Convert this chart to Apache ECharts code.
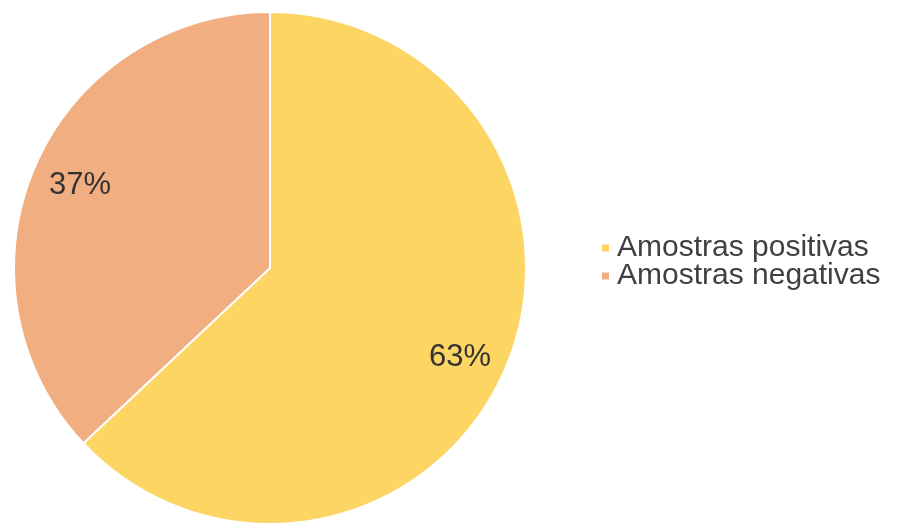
<!DOCTYPE html>
<html>
<head>
<meta charset="utf-8">
<script src="https://cdn.jsdelivr.net/npm/echarts@6/dist/echarts.min.js"></script>
<style>
  html, body { margin: 0; padding: 0; background: #fff; }
  #main { width: 904px; height: 523px; }
</style>
</head>
<body>
<div id="main"></div>
<script>
var categories = ['Amostras positivas', 'Amostras negativas'];
var values = [63, 37];
var colors = ['#FDD563', '#F1AE80'];

var pieData = categories.map(function (name, i) {
    return { name: name, value: values[i], itemStyle: { color: colors[i] } };
});

var myChart = echarts.init(document.getElementById('main'));

var option = {
    backgroundColor: '#fff',
    animation: false,
    legend: {
        orient: 'vertical',
        left: 595,
        top: 228,
        itemWidth: 9,
        itemHeight: 9,
        itemGap: -2,
        icon: 'rect',
        data: categories,
        textStyle: {
            fontFamily: 'Liberation Sans',
            fontSize: 30,
            color: '#404040',
            padding: [0, 0, 0, 2]
        }
    },
    series: [
        {
            // visible pie
            type: 'pie',
            center: [270, 268],
            radius: [0, 256],
            startAngle: 90,
            clockwise: true,
            silent: true,
            itemStyle: { borderColor: '#fff', borderWidth: 2 },
            label: { show: false },
            labelLine: { show: false },
            data: pieData
        },
        {
            // transparent pie, only to place the labels further out
            type: 'pie',
            center: [270, 268],
            radius: [0, 408],
            startAngle: 90,
            clockwise: true,
            silent: true,
            itemStyle: { color: 'transparent', borderWidth: 0 },
            label: {
                show: true,
                position: 'inside',
                formatter: '{c}%',
                fontFamily: 'Liberation Sans',
                fontSize: 31,
                color: '#333'
            },
            labelLine: { show: false },
            data: categories.map(function (name, i) {
                var d = { name: name, value: values[i] };
                if (i === 0) d.label = { offset: [0, 7] };
                return d;
            })
        }
    ]
};
myChart.setOption(option);
</script>
</body>
</html>
